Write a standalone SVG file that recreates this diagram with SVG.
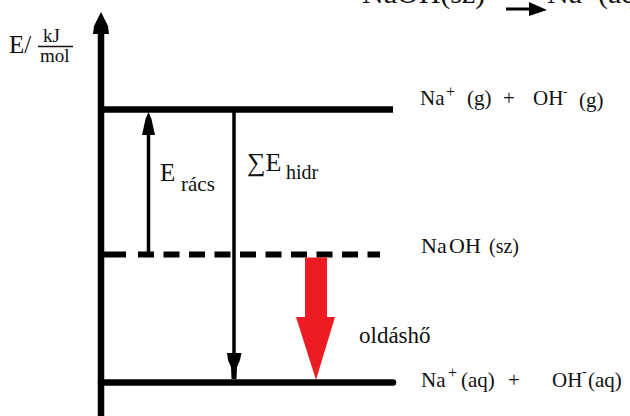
<svg xmlns="http://www.w3.org/2000/svg" width="630" height="416" viewBox="0 0 630 416" font-family="'Liberation Serif', 'Times New Roman', Tinos, 'Nimbus Roman', 'DejaVu Serif', serif">
<style>
text{fill:#111}
.lbl{font-size:21px}
.sup{font-size:16px}
.thick{stroke:#000;stroke-width:6.5;fill:none}
.thin{stroke:#000;stroke-width:3.5;fill:none}
</style>
<rect width="630" height="416" fill="#fff"/>
<g id="title">
<text x="362" y="3" font-size="30">NaOH(sz)</text>
<line x1="506" y1="9" x2="533" y2="9" stroke="#000" stroke-width="3"/>
<polygon points="529,2 547,10 529,16" fill="#000"/>
<text x="547" y="3" font-size="30">Na</text>
<text x="589" y="-6" font-size="20">+</text>
<text x="598" y="3" font-size="30">(aq)</text>
</g>
<g id="axis">
<line x1="101" y1="30" x2="101" y2="416" class="thick"/>
<polygon points="101,12 104,18 108,26 109,34 93,34 94,26 98,18" fill="#000"/>
<text x="9" y="53" font-size="25">E/</text>
<text x="43" y="42" font-size="19">kJ</text>
<line x1="38" y1="46.5" x2="73" y2="46.5" stroke="#111" stroke-width="1.3"/>
<text x="40" y="62" font-size="19">mol</text>
</g>
<g id="level-gas">
<line x1="101" y1="109.5" x2="393" y2="109.5" class="thick"/>
<text x="420" y="105" class="lbl">Na</text>
<text x="446" y="97" class="sup">+</text>
<text x="467" y="105" class="lbl">(g)</text>
<text x="503" y="105" class="lbl">+</text>
<text x="533" y="105" class="lbl">OH</text>
<text x="563" y="96" font-size="13">-</text>
<text x="579" y="107" class="lbl">(g)</text>
</g>
<g id="level-solid">
<line x1="101" y1="254.5" x2="126" y2="254.5" class="thick" style="stroke-width:6"/>
<line x1="138" y1="254.5" x2="380" y2="254.5" class="thick" style="stroke-width:6" stroke-dasharray="16 9.5"/>
<text x="421" y="253" font-size="22">Na</text>
<text x="449" y="253" font-size="22">OH</text>
<text x="489" y="253" font-size="20">(sz)</text>
</g>
<g id="level-aq">
<line x1="101" y1="382.5" x2="393" y2="382.5" class="thick" stroke-linecap="round"/>
<text x="421" y="387" class="lbl">Na</text>
<text x="448" y="378" class="sup">+</text>
<text x="461" y="387" class="lbl">(aq)</text>
<text x="508" y="387" class="lbl">+</text>
<text x="552" y="387" class="lbl">OH</text>
<text x="582" y="376" font-size="14">-</text>
<text x="588" y="387" class="lbl">(aq)</text>
</g>
<g id="connectors">
<g id="e-racs">
<line x1="148.5" y1="130" x2="148.5" y2="254" class="thin"/>
<polygon points="148.5,112 151.5,119 153,126 155,135 142,135 144,126 145.5,119" fill="#000"/>
</g>
<g id="e-hidr">
<line x1="234" y1="112" x2="234" y2="360" class="thin"/>
<polygon points="227,353 241.5,353 240,360 237,367 236.5,379 231.5,379 231,367 228,360" fill="#000"/>
</g>
<g id="oldasho-arrow">
<rect x="305" y="257.5" width="22" height="60" fill="#ED1C24"/>
<polygon points="296,317 335,317 316,380" fill="#ED1C24"/>
</g>
</g>
<g id="labels">
<text x="160" y="181" font-size="25">E</text>
<text x="181" y="191" font-size="21">rács</text>
<text x="247" y="171" font-size="26">∑E</text>
<text x="286" y="179" font-size="20">hidr</text>
<text x="359" y="343" font-size="23">oldáshő</text>
</g>
</svg>
